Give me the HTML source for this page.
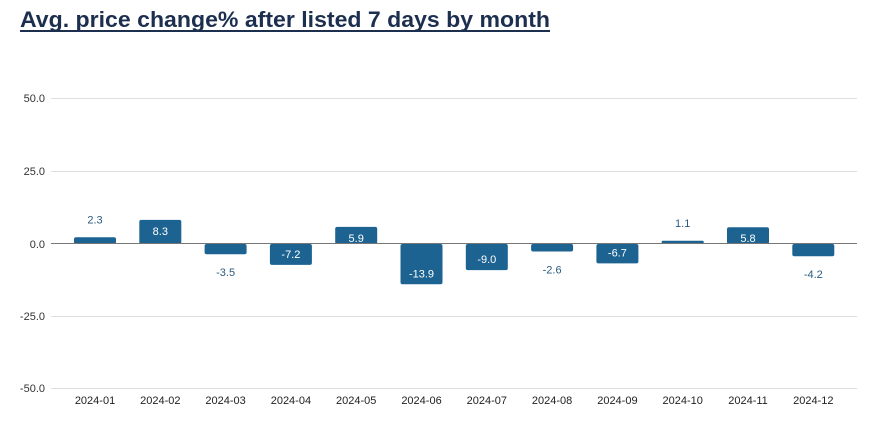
<!DOCTYPE html>
<html><head><meta charset="utf-8"><style>
body{margin:0;background:#fff;}
</style></head><body>
<svg width="874" height="421" xmlns="http://www.w3.org/2000/svg" font-family="Liberation Sans, sans-serif">
<text x="20" y="27" font-size="22" font-weight="bold" fill="#1c2f4f" textLength="530" lengthAdjust="spacingAndGlyphs">Avg. price change% after listed 7 days by month</text>
<line x1="20" y1="31" x2="550" y2="31" stroke="#1c2f4f" stroke-width="2"/>
<g stroke="#dedede" stroke-width="1">
<line x1="51" y1="98.5" x2="857" y2="98.5"/>
<line x1="51" y1="171.5" x2="857" y2="171.5"/>
<line x1="51" y1="316.5" x2="857" y2="316.5"/>
<line x1="51" y1="388.5" x2="857" y2="388.5"/>
</g>
<g font-size="11" fill="#333" text-anchor="end">
<text x="45" y="102">50.0</text>
<text x="45" y="175">25.0</text>
<text x="45" y="248">0.0</text>
<text x="45" y="320">-25.0</text>
<text x="45" y="392">-50.0</text>
</g>
<g fill="#1d6392">
<rect x="74" y="237.3" width="42" height="6.7" rx="2"/>
<rect x="139.3" y="219.9" width="42" height="24.1" rx="2"/>
<rect x="204.6" y="244" width="42" height="10.2" rx="2"/>
<rect x="269.9" y="244" width="42" height="20.9" rx="2"/>
<rect x="335.2" y="226.9" width="42" height="17.1" rx="2"/>
<rect x="400.5" y="244" width="42" height="40.3" rx="2"/>
<rect x="465.8" y="244" width="42" height="26.1" rx="2"/>
<rect x="531.1" y="244" width="42" height="7.5" rx="2"/>
<rect x="596.4" y="244" width="42" height="19.4" rx="2"/>
<rect x="661.7" y="240.8" width="42" height="3.2" rx="1"/>
<rect x="727" y="227.2" width="42" height="16.8" rx="2"/>
<rect x="792.3" y="244" width="42" height="12.2" rx="2"/>
</g>
<line x1="51" y1="243.5" x2="857" y2="243.5" stroke="#777" stroke-width="1"/>
<g font-size="11" text-anchor="middle">
<text x="95" y="223.3" fill="#2b5b80">2.3</text>
<text x="160.3" y="234.9" fill="#fff">8.3</text>
<text x="225.6" y="276.2" fill="#2b5b80">-3.5</text>
<text x="290.9" y="257.9" fill="#fff">-7.2</text>
<text x="356.2" y="241.9" fill="#fff">5.9</text>
<text x="421.5" y="277.3" fill="#fff">-13.9</text>
<text x="486.8" y="263.1" fill="#fff">-9.0</text>
<text x="552.1" y="273.5" fill="#2b5b80">-2.6</text>
<text x="617.4" y="256.4" fill="#fff">-6.7</text>
<text x="682.7" y="226.8" fill="#2b5b80">1.1</text>
<text x="748" y="242.2" fill="#fff">5.8</text>
<text x="813.3" y="278.2" fill="#2b5b80">-4.2</text>
</g>
<g font-size="11" fill="#222" text-anchor="middle">
<text x="95" y="404">2024-01</text>
<text x="160.3" y="404">2024-02</text>
<text x="225.6" y="404">2024-03</text>
<text x="290.9" y="404">2024-04</text>
<text x="356.2" y="404">2024-05</text>
<text x="421.5" y="404">2024-06</text>
<text x="486.8" y="404">2024-07</text>
<text x="552.1" y="404">2024-08</text>
<text x="617.4" y="404">2024-09</text>
<text x="682.7" y="404">2024-10</text>
<text x="748" y="404">2024-11</text>
<text x="813.3" y="404">2024-12</text>
</g>
</svg>
</body></html>
